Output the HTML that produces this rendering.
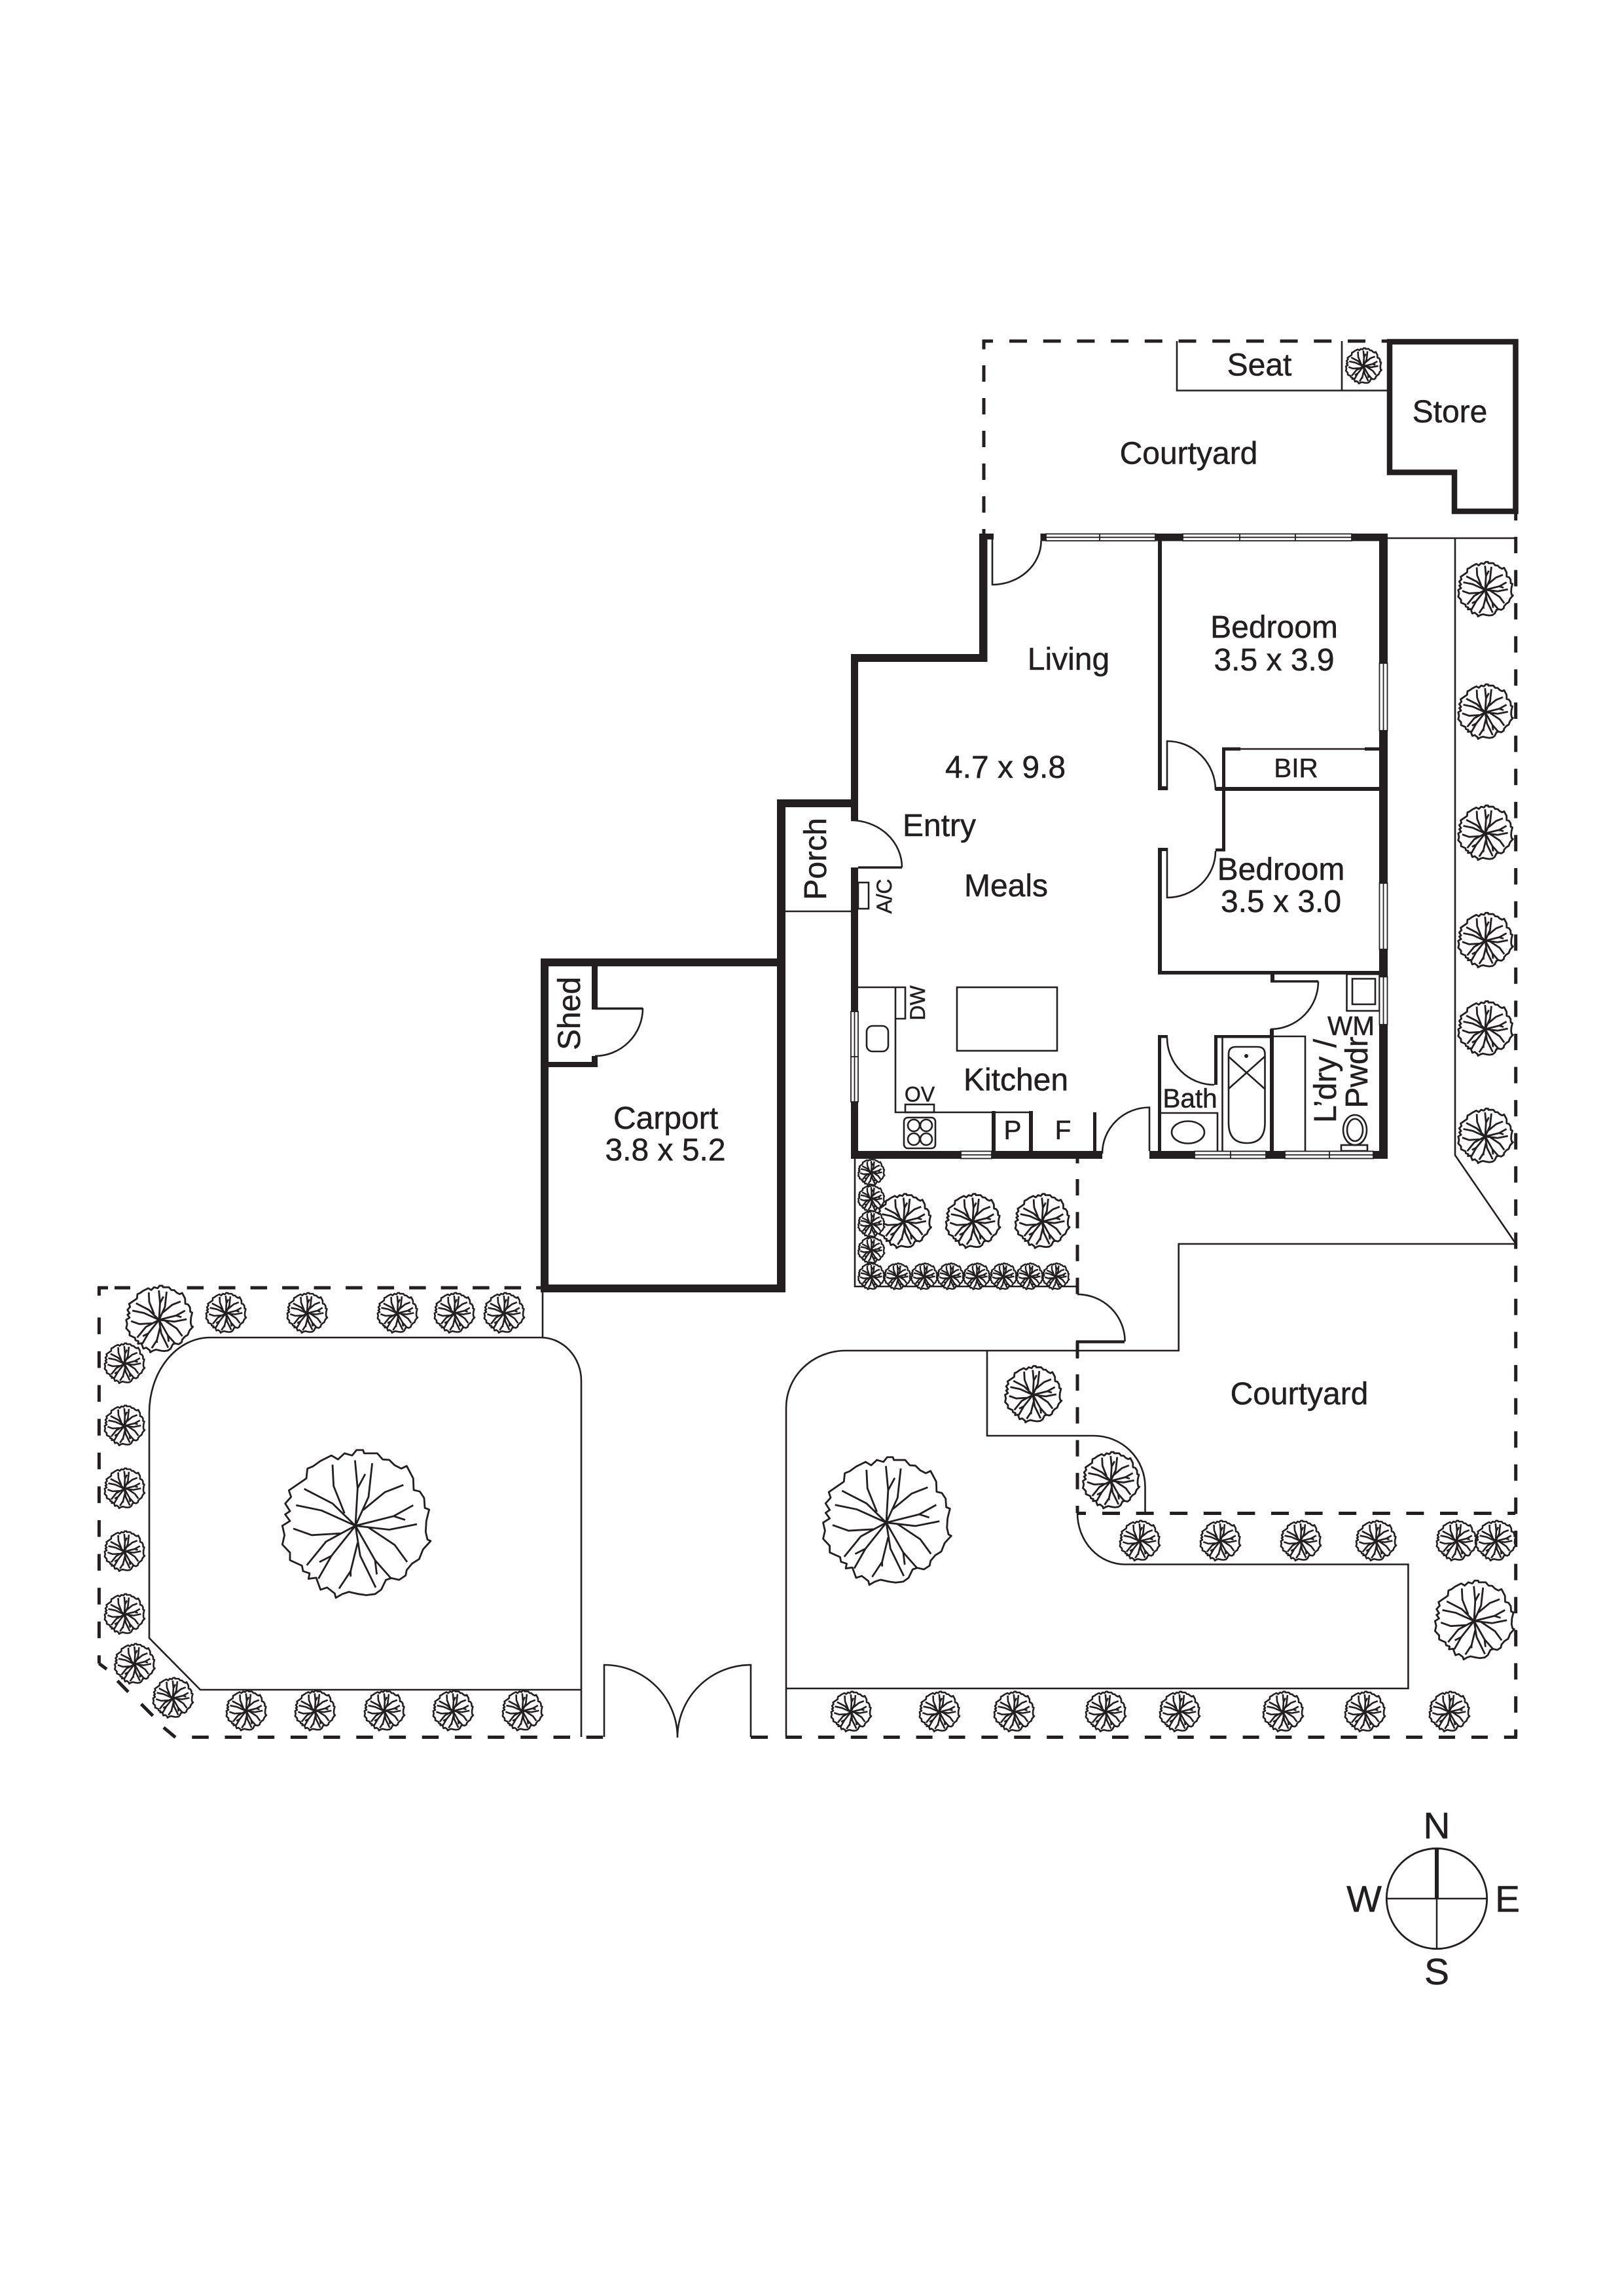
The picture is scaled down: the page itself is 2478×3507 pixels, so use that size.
<!DOCTYPE html>
<html><head><meta charset="utf-8"><title>Floor plan</title>
<style>
html,body{margin:0;padding:0;background:#fff}
svg{display:block}
text{font-family:"Liberation Sans",Arial,sans-serif;fill:#231f20;text-anchor:middle;stroke:#231f20;stroke-width:.5}
.f48{font-size:48px}.f39{font-size:40.5px}.f32{font-size:32px}.f57{font-size:57px}
.l{stroke:#231f20;stroke-width:2.6;fill:none}
.d{stroke:#231f20;stroke-width:5;fill:none}
.win{fill:#fff;stroke:#231f20;stroke-width:1.8}
.wl{stroke:#231f20;stroke-width:1.8;fill:none}
.tr{fill:#fff;stroke:#231f20;stroke-linejoin:round;vector-effect:non-scaling-stroke}
.br{fill:none;stroke:#231f20;vector-effect:non-scaling-stroke}
</style></head><body>
<svg xmlns="http://www.w3.org/2000/svg" width="2478" height="3507" viewBox="0 0 2478 3507">
<defs>
<g id="t" transform="translate(-430,-452)">
<path class="tr" d="M435 105L465 105 470 120 530 120 555 148 585 150 610 175 640 190 665 178 695 235 697 288 725 295 745 325 748 370 768 378 755 430 752 480 760 515 775 522 740 560 722 605 690 625 665 655 660 680 630 700 595 692 570 700 548 745 520 765 480 770 445 765 400 755 370 765 340 782 335 762 300 735 270 745 250 690 215 695 220 670 190 660 185 635 130 610 130 575 95 538 105 495 95 452 130 430 108 400 130 385 108 350 135 320 125 290 205 235 210 190 235 180 270 155 320 130 350 148 380 120 415 130Z"/>
<path class="br" d="M430 452L440 280 428 152M440 280L475 215M430 452L490 320 507 165M465 380L565 298 650 265M430 452L605 408 695 358M605 408L658 425M430 452L585 470 712 445M490 460L610 540 667 618M430 452L520 610 595 695M520 610L528 675M430 452L452 590 523 735M440 530L408 660 355 740M408 660L408 685M430 452L320 590 260 695M320 590L265 618M365 487L295 525 207 633M430 452L365 487 230 495 145 465M430 452L325 350 195 283M430 452L275 382 158 358M380 395L330 270 325 172"/>
</g>
</defs>
<rect width="2478" height="3507" fill="#fff"/>

<!-- fence dashes -->
<g class="d">
<line x1="1503" y1="558" x2="1503" y2="815" stroke-dasharray="25 25"/>
<path d="M1503 533.5V521H1517"/>
<line x1="1542" y1="521" x2="2119" y2="521" stroke-dasharray="27 24.7"/>
<line x1="2315.7" y1="785" x2="2315.7" y2="795"/>
<line x1="2315.7" y1="820" x2="2315.7" y2="2653" stroke-dasharray="25 25.6"/>
<line x1="1646" y1="1770" x2="1646" y2="1777"/>
<line x1="1646" y1="1801" x2="1646" y2="1977" stroke-dasharray="25 25.2"/>
<line x1="1646" y1="2049" x2="1646" y2="2311" stroke-dasharray="25 25.2"/>
<line x1="1646" y1="2311.5" x2="1659" y2="2311.5"/>
<line x1="1684" y1="2311.5" x2="2315" y2="2311.5" stroke-dasharray="27 24.6"/>
<line x1="1200" y1="2653.5" x2="2318" y2="2653.5" stroke-dasharray="25 24.9"/>
<line x1="1147" y1="2653.5" x2="1173" y2="2653.5"/>
<line x1="293.3" y1="2653.5" x2="922" y2="2653.5" stroke-dasharray="25.5 24.7"/>
<line x1="149" y1="1967" x2="165" y2="1967"/>
<line x1="175" y1="1967" x2="199" y2="1967"/>
<line x1="285.6" y1="1967" x2="826" y2="1967" stroke-dasharray="25.5 23"/>
<line x1="151.4" y1="1967" x2="151.4" y2="1979"/>
<line x1="151.4" y1="2012.4" x2="151.4" y2="2541" stroke-dasharray="25.5 26.1"/>
<line x1="151.4" y1="2541" x2="163" y2="2549.5"/>
<line x1="179.5" y1="2567.4" x2="196" y2="2584.4"/>
<line x1="215.7" y1="2602.8" x2="233.6" y2="2620.8"/>
<line x1="250" y1="2638.7" x2="268" y2="2653.7"/>
</g>

<!-- site lines -->
<g class="l">
<path d="M1798 521V596.5H2122M2050 521V596.5"/>
<path d="M2120 822H2316M2223 822V1764.5L2316 1900H1800.7V2063H1292A91 87 0 0 0 1201 2150V2653"/>
<path d="M1508 2063V2193H1671A78.5 78 0 0 1 1749.5 2271V2311"/>
<path d="M1646 2311A72.6 78.5 0 0 0 1718.6 2389.5H2151.4V2579H1201"/>
<path d="M1306 1770V1965H1646"/>
<path d="M829 1974V2043M321 2043H826A62 66 0 0 1 888 2109V2653M888 2581H306L228 2502V2158A93 115 0 0 1 321 2043"/>
<path d="M923 2653V2543A112 111 0 0 1 1035 2654A112 111 0 0 1 1147 2543V2653"/>
<path d="M1200 1392H1300"/>
<path d="M1646 1977A72.6 72 0 0 1 1718.6 2049"/>
</g>
<path d="M1646 2075V2049.5H1718" stroke="#231f20" stroke-width="4.5" fill="none"/>

<!-- thick walls -->
<path d="M2123 522H2315.5V781H2222V721.5H2123Z" fill="none" stroke="#231f20" stroke-width="8.5"/>
<g fill="#231f20">
<rect x="1496" y="815" width="12.5" height="196"/>
<rect x="1496" y="815" width="22" height="9"/>
<rect x="1300" y="999" width="208.5" height="12"/>
<rect x="1300" y="999" width="11" height="254"/>
<rect x="1300" y="1325" width="11" height="445"/>
<rect x="1300" y="1758" width="384" height="12"/>
<rect x="1756" y="1758" width="364" height="12"/>
<rect x="2107" y="815" width="13" height="955"/>
<rect x="1590" y="815" width="530" height="11.5"/>
<rect x="1769" y="815" width="6" height="392"/>
<rect x="1769" y="1295" width="6" height="193"/>
<rect x="1769" y="1201" width="15" height="6"/>
<rect x="1769" y="1295" width="15" height="5"/>
<rect x="1857" y="1202" width="250" height="6"/>
<rect x="1867" y="1143" width="5" height="157"/>
<rect x="1857" y="1296" width="15" height="4.5"/>
<rect x="1867" y="1141.5" width="28" height="5"/>
<rect x="2085" y="1141.5" width="22" height="5"/>
<rect x="1769" y="1483" width="338" height="5.5"/>
<rect x="1941" y="1488" width="6" height="12"/>
<rect x="1940" y="1572" width="6" height="198"/>
<rect x="1855" y="1581" width="86" height="4.5"/>
<rect x="1855" y="1581" width="5" height="76"/>
<rect x="1769" y="1581" width="5" height="177"/>
<rect x="1769" y="1581" width="15" height="4.5"/>
<rect x="826" y="1464" width="374" height="12"/>
<rect x="826" y="1962" width="374" height="12"/>
<rect x="826" y="1464" width="12" height="510"/>
<rect x="1187" y="1221" width="13" height="753"/>
<rect x="1187" y="1221" width="113" height="12"/>
<rect x="904" y="1476" width="9" height="66"/>
<rect x="838" y="1622" width="75" height="8"/>
<rect x="904" y="1613" width="9" height="10"/>
<rect x="1515" y="1697" width="6" height="61"/>
<rect x="1572" y="1697" width="6" height="61"/>
<rect x="1670" y="1699" width="5" height="59"/>
<rect x="1589.5" y="815" width="8.5" height="11"/>
</g>

<!-- doors, fixtures -->
<g class="l">
<path d="M1590.6 826A74.6 67 0 0 1 1516 893V824"/>
<path d="M1300 1253A78 72 0 0 1 1378 1325"/>
<path d="M1783 1207V1132A74 75 0 0 1 1857 1207"/>
<path d="M1783 1295V1371A74 71 0 0 0 1857 1300"/>
<path d="M1872 1144H2107"/>
<path d="M2014 1499A73 73 0 0 1 1941 1572"/>
<path d="M1783 1585A72 72 0 0 0 1855 1657"/>
<path d="M1684 1762A72 70.5 0 0 1 1756 1691.5V1758"/>
<path d="M982 1540A73 73 0 0 1 909 1613"/>
<path d="M1311 1508H1383V1556H1368V1508M1368 1556V1699H1578"/>
<rect x="1311" y="1348" width="16" height="40"/>
<rect x="1324" y="1567" width="33" height="39" rx="9"/>
<rect x="1383" y="1687" width="44" height="12"/>
<rect x="1381" y="1707" width="48" height="47" rx="6"/>
<circle cx="1396" cy="1719" r="9"/><circle cx="1415" cy="1719" r="9"/>
<circle cx="1396" cy="1740" r="9"/><circle cx="1415" cy="1740" r="9"/>
<rect x="1462" y="1508" width="153" height="97"/>
<rect x="2057.5" y="1488" width="50" height="56"/>
<rect x="2066" y="1495" width="35" height="39"/>
<path d="M1774 1700H1860V1758"/>
<ellipse cx="1815" cy="1729.5" rx="25" ry="17"/>
<path d="M1867.5 1585V1758"/>
<path d="M1877 1610Q1877 1599 1888 1599H1921Q1932.5 1599 1932.5 1610V1715Q1932.5 1746 1905 1746Q1877 1746 1877 1715Z"/>
<path d="M1877 1614L1932 1663M1932 1614L1877 1663"/>
<path d="M1946 1583H1994V1758"/>
<ellipse cx="2070" cy="1726" rx="18" ry="23"/>
<ellipse cx="2070" cy="1726" rx="12" ry="17"/>
<rect x="2049" y="1749" width="40" height="9"/>
</g>
<circle cx="1904" cy="1613" r="3" fill="#231f20"/>
<g stroke="#231f20" stroke-width="3.5" fill="none">
<path d="M1311 1325H1378M1941 1499H2014M909 1540.5H982"/>
</g>

<!-- windows -->
<g>
<rect class="win" x="1598" y="815.5" width="167" height="10.5"/><path class="wl" d="M1598 820.7H1765M1680 815.5V826"/>
<rect class="win" x="1807" y="815.5" width="258" height="10.5"/><path class="wl" d="M1807 820.7H2065M1894 815.5V826M1979 815.5V826"/>
<rect class="win" x="2107.5" y="1013" width="12" height="103"/><path class="wl" d="M2113.5 1013V1116"/>
<rect class="win" x="2107.5" y="1349" width="12" height="101"/><path class="wl" d="M2113.5 1349V1450"/>
<rect class="win" x="2107.5" y="1492" width="12" height="73"/><path class="wl" d="M2113.5 1492V1565"/>
<rect class="win" x="1300" y="1545" width="11" height="138"/><path class="wl" d="M1305.5 1545V1683M1300 1614H1311"/>
<rect class="win" x="1468" y="1758.5" width="47" height="11"/><path class="wl" d="M1468 1764H1515"/>
<rect class="win" x="1825" y="1758.5" width="109" height="11"/><path class="wl" d="M1825 1764H1934M1880 1758.5V1769.5"/>
<rect class="win" x="1963" y="1758.5" width="135" height="11"/><path class="wl" d="M1963 1764H2098M2031 1758.5V1769.5"/>
</g>

<!-- trees -->
<g stroke-width="2.8">
<use href="#t" transform="translate(543,2330.5) scale(.3333)"/>
<use href="#t" transform="translate(1354,2325.7) scale(.288)"/>
<use href="#t" transform="translate(243,2016) scale(.15)"/>
<use href="#t" transform="translate(2252,2476) scale(.178)"/>
<use href="#t" transform="translate(1578,2130.6) scale(.127)"/>
<use href="#t" transform="translate(1697,2262) scale(.127)"/>
<use href="#t" transform="translate(1380.5,1866) scale(.122)"/>
<use href="#t" transform="translate(1486,1866) scale(.122)"/>
<use href="#t" transform="translate(1592,1866) scale(.122)"/>
<use href="#t" transform="translate(2269,901) scale(.123)"/>
<use href="#t" transform="translate(2269,1088) scale(.123)"/>
<use href="#t" transform="translate(2269,1273) scale(.123)"/>
<use href="#t" transform="translate(2269,1437) scale(.123)"/>
<use href="#t" transform="translate(2269,1572) scale(.123)"/>
<use href="#t" transform="translate(2269,1736) scale(.123)"/>
</g>
<g stroke-width="2.6">
<use href="#t" transform="translate(345,2006) scale(.09)"/>
<use href="#t" transform="translate(469,2006) scale(.09)"/>
<use href="#t" transform="translate(607,2006) scale(.09)"/>
<use href="#t" transform="translate(694,2006) scale(.09)"/>
<use href="#t" transform="translate(770,2006) scale(.09)"/>
<use href="#t" transform="translate(190,2083) scale(.09)"/>
<use href="#t" transform="translate(190,2178) scale(.09)"/>
<use href="#t" transform="translate(190,2274) scale(.09)"/>
<use href="#t" transform="translate(190,2370) scale(.09)"/>
<use href="#t" transform="translate(190,2466) scale(.09)"/>
<use href="#t" transform="translate(205.5,2542) scale(.09)"/>
<use href="#t" transform="translate(264,2594) scale(.09)"/>
<use href="#t" transform="translate(376,2613.5) scale(.09)"/>
<use href="#t" transform="translate(481,2613.5) scale(.09)"/>
<use href="#t" transform="translate(587,2613.5) scale(.09)"/>
<use href="#t" transform="translate(692,2613.5) scale(.09)"/>
<use href="#t" transform="translate(798,2613.5) scale(.09)"/>
<use href="#t" transform="translate(1741,2354) scale(.09)"/>
<use href="#t" transform="translate(1864,2354) scale(.09)"/>
<use href="#t" transform="translate(1987,2354) scale(.09)"/>
<use href="#t" transform="translate(2102,2354) scale(.09)"/>
<use href="#t" transform="translate(2225,2354) scale(.09)"/>
<use href="#t" transform="translate(2285,2354) scale(.09)"/>
<use href="#t" transform="translate(1300,2615) scale(.09)"/>
<use href="#t" transform="translate(1435,2615) scale(.09)"/>
<use href="#t" transform="translate(1549,2615) scale(.09)"/>
<use href="#t" transform="translate(1689,2615) scale(.09)"/>
<use href="#t" transform="translate(1802,2615) scale(.09)"/>
<use href="#t" transform="translate(1960,2615) scale(.09)"/>
<use href="#t" transform="translate(2085,2615) scale(.09)"/>
<use href="#t" transform="translate(2214,2615) scale(.09)"/>
<use href="#t" transform="translate(2083,559.5) scale(.08)"/>
</g>
<g stroke-width="2.4">
<use href="#t" transform="translate(1331,1791) scale(.059)"/>
<use href="#t" transform="translate(1331,1831) scale(.059)"/>
<use href="#t" transform="translate(1331,1870) scale(.059)"/>
<use href="#t" transform="translate(1331,1910) scale(.059)"/>
<use href="#t" transform="translate(1331,1950) scale(.059)"/>
<use href="#t" transform="translate(1371,1950) scale(.059)"/>
<use href="#t" transform="translate(1412,1950) scale(.059)"/>
<use href="#t" transform="translate(1452,1950) scale(.059)"/>
<use href="#t" transform="translate(1492,1950) scale(.059)"/>
<use href="#t" transform="translate(1533,1950) scale(.059)"/>
<use href="#t" transform="translate(1573,1950) scale(.059)"/>
<use href="#t" transform="translate(1613,1950) scale(.059)"/>
</g>

<!-- labels -->
<text class="f48" x="1924" y="573.7">Seat</text>
<text class="f48" x="1816" y="708.6">Courtyard</text>
<text class="f48" x="2215" y="645">Store</text>
<text class="f48" x="1632.5" y="1023">Living</text>
<text class="f48" x="1946.5" y="974">Bedroom</text>
<text class="f48" x="1946.5" y="1024">3.5 x 3.9</text>
<text class="f48" x="1536" y="1188">4.7 x 9.8</text>
<text class="f39" x="1980" y="1187">BIR</text>
<text class="f48" x="1435" y="1277">Entry</text>
<text class="f48" x="1537" y="1369">Meals</text>
<text class="f48" x="1957" y="1344">Bedroom</text>
<text class="f48" x="1957" y="1393">3.5 x 3.0</text>
<text class="f48" x="1552" y="1665.6">Kitchen</text>
<text class="f39" x="1818" y="1691.5">Bath</text>
<text class="f39" x="1547" y="1740">P</text>
<text class="f39" x="1624" y="1740">F</text>
<text class="f32" x="1405" y="1682.6">OV</text>
<text class="f39" x="2064" y="1581">WM</text>
<text class="f48" x="1985" y="2145">Courtyard</text>
<text class="f48" x="1017" y="1724">Carport</text>
<text class="f48" x="1016.5" y="1772.4">3.8 x 5.2</text>
<text class="f48" transform="translate(1262,1312) rotate(-90)">Porch</text>
<text class="f48" transform="translate(886,1548) rotate(-90)">Shed</text>
<text class="f32" transform="translate(1362,1369) rotate(-90)">A/C</text>
<text class="f32" transform="translate(1413,1532) rotate(-90)">DW</text>
<text class="f48" transform="translate(2041,1651) rotate(-90)">L’dry /</text>
<text class="f48" transform="translate(2089,1638) rotate(-90)">Pwdr</text>

<!-- compass -->
<circle cx="2195" cy="2900" r="76.7" fill="none" stroke="#231f20" stroke-width="2.8"/>
<path d="M2118 2900H2272M2195 2900V2977" stroke="#231f20" stroke-width="2.5" fill="none"/>
<rect x="2192" y="2823" width="6" height="78" fill="#231f20"/>
<text class="f57" x="2195" y="2808">N</text>
<text class="f57" x="2084" y="2920">W</text>
<text class="f57" x="2303" y="2920">E</text>
<text class="f57" x="2195" y="3031">S</text>
</svg>
</body></html>
